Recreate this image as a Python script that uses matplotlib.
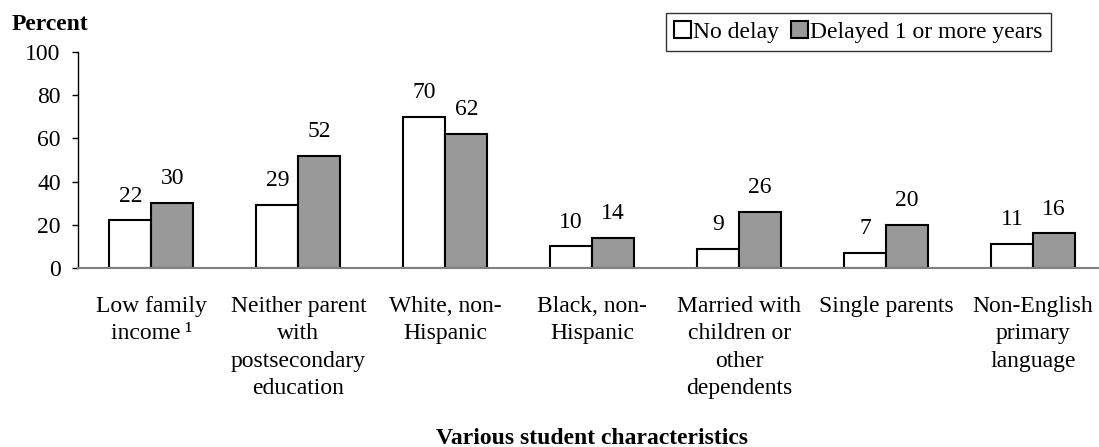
import matplotlib
matplotlib.use("Agg")
import matplotlib.pyplot as plt
import numpy as np

categories = ["Low family\nincome\u2009\u00b9", "Neither parent\nwith\npostsecondary\neducation",
              "White, non-\nHispanic", "Black, non-\nHispanic", "Married with\nchildren or\nother\ndependents",
              "Single parents", "Non-English\nprimary\nlanguage"]
no_delay = [22, 29, 70, 10, 9, 7, 11]
delayed = [30, 52, 62, 14, 26, 20, 16]
series_names = ["No delay", "Delayed 1 or more years"]

plt.rcParams['font.family'] = ['Liberation Serif', 'DejaVu Serif']

fig = plt.figure(figsize=(10.99, 4.47), dpi=100)
ax = fig.add_axes([78/1099, 179/447, 1021/1099, 216/447])

x = np.arange(len(categories))
w = 0.286
fs = 17
b1 = ax.bar(x - w/2, no_delay, w, color='white', edgecolor='black', linewidth=1.5, label=series_names[0])
b2 = ax.bar(x + w/2, delayed, w, color='#999999', edgecolor='black', linewidth=1.5, label=series_names[1])
for bars, vals in ((b1, no_delay), (b2, delayed)):
    for r, v in zip(bars, vals):
        ax.annotate(str(v), (r.get_x() + r.get_width()/2, v), xytext=(0, 10), textcoords='offset points',
                    ha='center', va='bottom', fontsize=fs)

ax.set_xlim(-0.5, 6.45)
ax.set_ylim(0, 100)
ax.set_yticks(range(0, 101, 20))
ax.tick_params(axis='y', labelsize=fs, length=4.5, width=1, direction='out', pad=8)
ax.set_xticks(x)
ax.set_xticklabels(categories, fontsize=fs, va='top', linespacing=1.4)
ax.tick_params(axis='x', length=0, pad=20)
for s in ('top', 'right'):
    ax.spines[s].set_visible(False)
ax.spines['left'].set_linewidth(1)
ax.spines['bottom'].set_color('#808080')
ax.spines['bottom'].set_linewidth(1.5)

fig.text(12/1099, 1 - 25/447, "Percent", fontsize=fs, fontweight='bold', va='center', ha='left')
fig.text(592/1099, 1 - 438/447, "Various student characteristics", fontsize=fs,
         fontweight='bold', ha='center', va='center')

leg = ax.legend(loc='upper right', bbox_to_anchor=(1051/1099, 1 - 13/447), bbox_transform=fig.transFigure,
                ncol=2, frameon=True, fancybox=False, edgecolor='black', fontsize=fs,
                handlelength=0.72, handleheight=0.72, handletextpad=0.1, columnspacing=0.5,
                borderpad=0.35, borderaxespad=0)
leg.get_frame().set_linewidth(1)
for h in leg.legend_handles:
    h.set_linewidth(1.5)

fig.savefig("out.png", dpi=100)
